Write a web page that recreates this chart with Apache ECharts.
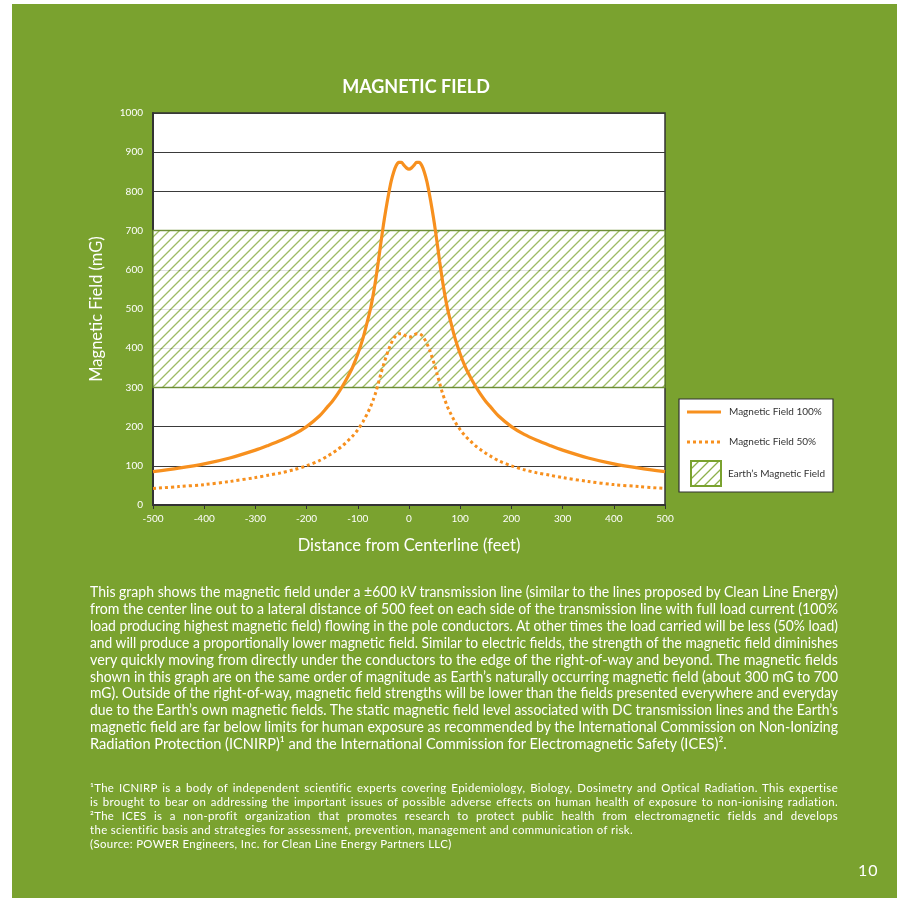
<!DOCTYPE html>
<html><head><meta charset="utf-8">
<script src="https://cdn.jsdelivr.net/npm/echarts@6/dist/echarts.min.js"></script>
<style>
html,body{margin:0;padding:0;background:#fff;width:904px;height:903px;overflow:hidden;font-family:Lato,"Open Sans",sans-serif;}
#page{position:absolute;left:12px;top:4px;width:885px;height:894px;background:#7aa22f;}
#chart{position:absolute;left:0;top:0;width:904px;height:903px;}
.txt{position:absolute;color:#fff;}
.ln{white-space:nowrap;text-align:justify;text-align-last:justify;transform-origin:left center;}
.ln.last{text-align:left;text-align-last:left;}
#para{left:90px;top:584px;width:748px;font-size:14.6px;line-height:16.9px;}
#notes{left:90px;top:781px;width:748px;font-size:11.4px;line-height:14.1px;letter-spacing:0.35px;}
#pnum{left:858px;top:860px;font-size:16px;letter-spacing:1px;}
</style></head>
<body>
<div id="page"></div>
<div id="chart"></div>
<div id="para" class="txt"></div>
<div id="notes" class="txt"></div>
<div id="pnum" class="txt">10</div>
<script>
// ---- data ----
const distance = [-500,-450,-400,-350,-300,-275,-250,-225,-200,-175,-160,-150,-140,-130,-120,-110,-100,-90,-80,-75,-70,-65,-60,-55,-50,-45,-40,-35,-30,-25,-20,-15,-10,-5,0,
                  5,10,15,20,25,30,35,40,45,50,55,60,65,70,75,80,90,100,110,120,130,140,150,160,175,200,225,250,275,300,350,400,450,500];
const field100 = [85,94,105,120,140,152,165,180,200,227,249,264,282,303,326,352,385,425,475,502,536,575,620,668,714,755,792,825,849,866,874,874,867,860,857,
                  860,867,874,874,866,849,825,792,755,714,668,620,575,536,502,475,425,385,352,326,303,282,264,249,227,200,180,165,152,140,120,105,94,85];
const field50 = [42,47,52,60,70,76,82,90,100,113,124,132,141,151,163,176,192,212,237,251,268,287,310,334,357,377,396,412,424,433,437,437,434,430,428,
                 430,434,437,437,433,424,412,396,377,357,334,310,287,268,251,237,212,192,176,163,151,141,132,124,113,100,90,82,76,70,60,52,47,42];
const earthBand = [300, 700];
const xTicks = [-500,-400,-300,-200,-100,0,100,200,300,400,500];
const yTicks = [0,100,200,300,400,500,600,700,800,900,1000];
const seriesNames = ['Magnetic Field 100%','Magnetic Field 50%','Earth\u2019s Magnetic Field'];
const chartTitle = 'MAGNETIC FIELD';
const xName = 'Distance from Centerline (feet)';
const yName = 'Magnetic Field (mG)';

const paraLines = [
 'This graph shows the magnetic field under a \u00b1600 kV transmission line (similar to the lines proposed by Clean Line Energy)',
 'from the center line out to a lateral distance of 500 feet on each side of the transmission line with full load current (100%',
 'load producing highest magnetic field) flowing in the pole conductors. At other times the load carried will be less (50% load)',
 'and will produce a proportionally lower magnetic field.  Similar to electric fields, the strength of the magnetic field diminishes',
 'very quickly moving from directly under the conductors to the edge of the right-of-way and beyond. The magnetic fields',
 'shown in this graph are on the same order of magnitude as Earth\u2019s naturally occurring magnetic field (about 300 mG to 700',
 'mG). Outside of the right-of-way, magnetic field strengths will be lower than the fields presented everywhere and everyday',
 'due to the Earth\u2019s own magnetic fields. The static magnetic field level associated with DC transmission lines and the Earth\u2019s',
 'magnetic field are far below limits for human exposure as recommended by the International Commission on Non-Ionizing',
 'Radiation Protection (ICNIRP)\u00b9 and the International Commission for Electromagnetic Safety (ICES)\u00b2.'
];
const noteLines = [
 '\u00b9The ICNIRP is a body of independent scientific experts covering Epidemiology, Biology, Dosimetry and Optical Radiation. This expertise',
 'is brought to bear on addressing the important issues of possible adverse effects on human health of exposure to non-ionising radiation.',
 '\u00b2The ICES is a non-profit organization that promotes research to protect public health from electromagnetic fields and develops',
 'the scientific basis and strategies for assessment, prevention, management and communication of risk.',
 '(Source: POWER Engineers, Inc. for Clean Line Energy Partners LLC)'
];

function fillLines(el, lines, lastIdx){
  lines.forEach((t,i)=>{
    const d=document.createElement('div');
    d.className='ln'+(lastIdx.includes(i)?' last':'');
    d.textContent=t;
    el.appendChild(d);
  });
  const W=el.clientWidth;
  Array.from(el.children).forEach(d=>{
    const s=document.createElement('span');s.textContent=d.textContent;s.style.whiteSpace='nowrap';
    d.textContent='';d.appendChild(s);
    const w=s.getBoundingClientRect().width;
    d.textContent=s.textContent;
    if(w>W){d.style.width=(w)+'px';d.style.transform='scaleX('+(W/w)+')';}
  });
}
fillLines(document.getElementById('para'), paraLines, [9]);
fillLines(document.getElementById('notes'), noteLines, [3,4]);

function hatch(){
  const c=document.createElement('canvas');c.width=10;c.height=10;
  const g=c.getContext('2d');
  g.fillStyle='#ffffff';g.fillRect(0,0,10,10);
  g.strokeStyle='#8db04b';g.lineWidth=1.3;
  g.beginPath();
  g.moveTo(0,10);g.lineTo(10,0);
  g.moveTo(-5,5);g.lineTo(5,-5);
  g.moveTo(5,15);g.lineTo(15,5);
  g.stroke();
  return c;
}
const pat=hatch();
const orange='#f7901e';
const chart=echarts.init(document.getElementById('chart'),null,{renderer:'canvas'});
const gl=153, gt=113, gw=512, gh=392;
const lgX=679, lgY=399;
chart.setOption({
  animation:false,
  title:{text:chartTitle,left:411,top:73,textAlign:'center',textStyle:{color:'#fff',fontSize:18,fontWeight:'bold',fontFamily:'Lato'}},
  grid:{left:gl,top:gt,width:gw,height:gh,show:true,backgroundColor:'#fff',borderColor:'#333',borderWidth:1.5},
  xAxis:{type:'value',min:-500,max:500,interval:100,
    name:xName,nameLocation:'middle',nameGap:32,nameTextStyle:{color:'#fff',fontSize:16.5,fontFamily:'Lato'},
    axisLine:{show:true,onZero:false,lineStyle:{color:'#333',width:2}},
    axisTick:{show:true,length:4,lineStyle:{color:'#333'}},
    axisLabel:{color:'#fff',fontSize:10,margin:9,fontFamily:'Lato',formatter:v=>xTicks.includes(v)?String(v):''},
    splitLine:{show:false}},
  yAxis:{type:'value',min:0,max:1000,interval:100,
    name:yName,nameLocation:'middle',nameGap:48,nameTextStyle:{color:'#fff',fontSize:16.5,fontFamily:'Lato'},
    axisLine:{show:true,onZero:false,lineStyle:{color:'#333',width:2}},
    axisTick:{show:false},
    axisLabel:{color:'#fff',fontSize:10,margin:10,fontFamily:'Lato',formatter:v=>yTicks.includes(v)?String(v):''},
    splitLine:{show:true,lineStyle:{color:'#3a3a3a',width:1}}},
  series:[
    {name:seriesNames[2],type:'line',data:[],silent:true,z:1,
     markArea:{silent:true,itemStyle:{color:{image:pat,repeat:'repeat'},borderColor:'#6a8f2a',borderWidth:1.5,opacity:0.85},
       data:[[{yAxis:earthBand[0]},{yAxis:earthBand[1]}]]}},
    {name:seriesNames[0],type:'line',smooth:0.3,showSymbol:false,z:3,
     data:distance.map((x,i)=>[x,field100[i]]),lineStyle:{color:orange,width:3.2}},
    {name:seriesNames[1],type:'line',smooth:0.3,showSymbol:false,z:3,
     data:distance.map((x,i)=>[x,field50[i]]),lineStyle:{color:orange,width:3,type:[3,3]}}
  ],
  graphic:[
    {type:'rect',shape:{x:lgX,y:lgY,width:154,height:93},style:{fill:'#fff',stroke:'#333',lineWidth:1.2}},
    {type:'line',shape:{x1:lgX+8,y1:lgY+13,x2:lgX+42,y2:lgY+13},style:{stroke:orange,lineWidth:3}},
    {type:'text',x:lgX+50,y:lgY+13,style:{text:seriesNames[0],fill:'#333',fontSize:10,fontFamily:'Lato',verticalAlign:'middle'}},
    {type:'line',shape:{x1:lgX+8,y1:lgY+43,x2:lgX+42,y2:lgY+43},style:{stroke:orange,lineWidth:3,lineDash:[3,3]}},
    {type:'text',x:lgX+50,y:lgY+43,style:{text:seriesNames[1],fill:'#333',fontSize:10,fontFamily:'Lato',verticalAlign:'middle'}},
    {type:'rect',shape:{x:lgX+12,y:lgY+62,width:30,height:25},style:{fill:{image:pat,repeat:'repeat'},stroke:'#7aa22f',lineWidth:2}},
    {type:'text',x:lgX+49,y:lgY+75,style:{text:seriesNames[2],fill:'#333',fontSize:10,fontFamily:'Lato',verticalAlign:'middle'}}
  ]
});
</script>
</body></html>
